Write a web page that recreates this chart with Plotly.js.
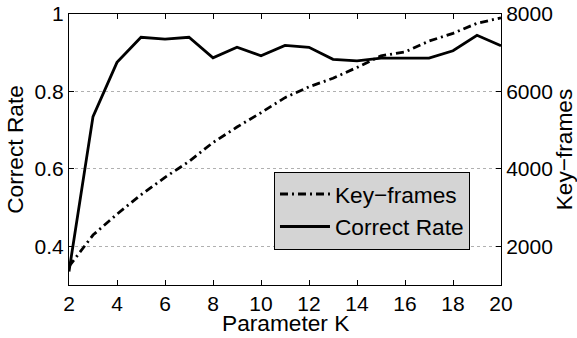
<!DOCTYPE html>
<html>
<head>
<meta charset="utf-8">
<script src="https://cdn.plot.ly/plotly-3.0.1.min.js"></script>
<style>html,body{margin:0;padding:0;background:#fff;}#chart{width:577px;height:338px;}</style>
</head>
<body>
<div id="chart"></div>
<script>
const paramK = [2,3,4,5,6,7,8,9,10,11,12,13,14,15,16,17,18,19,20];
const correctRate = [0.335,0.735,0.875,0.940,0.935,0.940,0.887,0.914,0.892,0.919,0.914,0.883,0.879,0.886,0.886,0.886,0.905,0.945,0.918];
const keyFrames = [1480,2290,2830,3330,3780,4190,4680,5080,5450,5840,6120,6340,6620,6920,7020,7300,7500,7760,7900];
const xTicks = [2,4,6,8,10,12,14,16,18,20];
const leftTicks = [0.4,0.6,0.8,1];
const leftTickText = ['0.4','0.6','0.8','1'];
const rightTicks = [2000,4000,6000,8000];

const fam = '"Liberation Sans", Arial, sans-serif';
const tickFont = {family: fam, size: 21, color: '#000'};
const legendFont = {family: fam, size: 22.7, color: '#000'};
const titleFont = {family: fam, size: 22.7, color: '#000'};

const traces = [
  {x: paramK, y: keyFrames, yaxis: 'y2', type: 'scatter', mode: 'lines', name: 'Key\u2212frames',
   line: {color: '#000', width: 2.8, dash: '8px,4px,2px,4px'}},
  {x: paramK, y: correctRate, yaxis: 'y', type: 'scatter', mode: 'lines', name: 'Correct Rate',
   line: {color: '#000', width: 2.8}}
];

const layout = {
  width: 577, height: 338,
  margin: {l: 69, r: 76, t: 14, b: 53, pad: 0},
  paper_bgcolor: '#fff', plot_bgcolor: '#fff',
  font: tickFont,
  showlegend: true,
  legend: {x: 0.4745, y: 0.418, xanchor: 'left', yanchor: 'top', bgcolor: '#d4d4d4',
           bordercolor: '#000', borderwidth: 1, font: legendFont, traceorder: 'normal', tracegroupgap: 0,
           itemwidth: 50},
  xaxis: {range: [2, 20], tickvals: xTicks, ticks: 'inside', ticklen: 5, tickcolor: '#000',
          showline: true, linecolor: '#000', linewidth: 1, mirror: 'ticks', showgrid: false, zeroline: false,
          tickfont: tickFont},
  yaxis: {range: [0.3, 1.0], tickvals: leftTicks, ticktext: leftTickText, ticks: 'inside', ticklen: 5, tickcolor: '#000',
          showline: true, linecolor: '#000', linewidth: 1, showgrid: true, gridcolor: '#b0b0b0', griddash: 'dot', gridwidth: 1,
          zeroline: false, title: {text: 'Correct Rate', font: titleFont, standoff: 4}, tickfont: tickFont},
  yaxis2: {range: [1000, 8000], tickvals: rightTicks, overlaying: 'y', side: 'right', ticks: 'inside', ticklen: 5, tickcolor: '#000',
           showline: true, linecolor: '#000', linewidth: 1, showgrid: false, zeroline: false,
           title: {text: 'Key\u2212frames', font: titleFont, standoff: 4}, tickfont: tickFont},
  annotations: [
    {text: 'Parameter K', xref: 'paper', yref: 'paper', x: 0.5, y: -0.142, xanchor: 'center', yanchor: 'middle',
     showarrow: false, font: titleFont}
  ]
};

Plotly.newPlot('chart', traces, layout, {staticPlot: true, displayModeBar: false});
</script>
</body>
</html>
